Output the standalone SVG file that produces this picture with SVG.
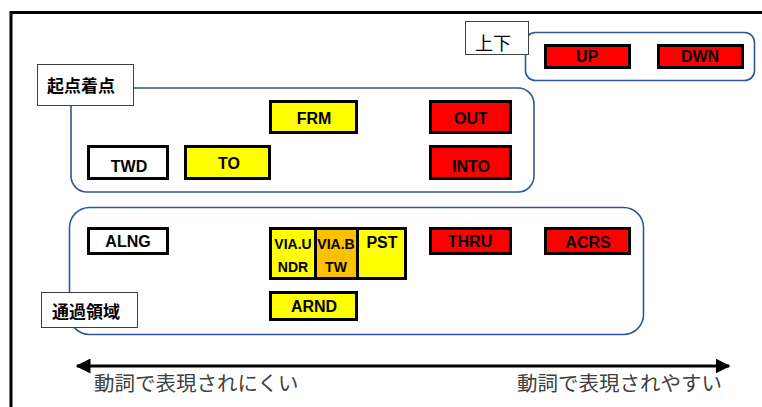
<svg xmlns="http://www.w3.org/2000/svg" width="762" height="407" viewBox="0 0 762 407">
<style>
.grp{fill:none;stroke:#2F5597;stroke-width:1.6}
.lbl{fill:#fff;stroke:#404040;stroke-width:1}
.lt{font-family:"Noto Sans CJK JP",sans-serif;font-weight:bold;font-size:17px;fill:#000}
.b{stroke:#000;stroke-width:3}
.r{fill:#FF0000}.y{fill:#FFFF00}.o{fill:#FFC000}.w{fill:#fff}
.t{font-family:"Liberation Sans",Arial,sans-serif;font-weight:bold;font-size:16px;fill:#000;text-anchor:middle}
.s{font-size:14px}
.ax{font-family:"Noto Sans CJK JP",sans-serif;font-size:20.5px;fill:#404040}
</style>
<defs>
<marker id="ah" viewBox="0 0 10 10" refX="9" refY="5" markerWidth="5" markerHeight="5" orient="auto-start-reverse" markerUnits="strokeWidth">
<path d="M0,0 L10,5 L0,10 z" fill="#000"/>
</marker>
</defs>
<rect width="762" height="407" fill="#fff"/>
<path d="M11,407 V12.5 H762" fill="none" stroke="#000" stroke-width="3"/>

<g id="group-updown">
<rect class="grp" x="525.5" y="32.5" width="229" height="48" rx="10"/>
<rect class="lbl" x="465.5" y="21.5" width="63" height="33"/>
<text class="lt" x="475" y="50" style="font-weight:normal;font-size:18px">上下</text>
</g>
<g id="group-origin">
<rect class="grp" x="71" y="88" width="463" height="104" rx="16"/>
<rect class="lbl" x="37.5" y="64.5" width="96" height="41"/>
<text class="lt" x="47" y="92">起点着点</text>
</g>
<g id="group-pass">
<rect class="grp" x="69.5" y="207.5" width="574" height="127" rx="20"/>
<rect class="lbl" x="41.5" y="292.5" width="96" height="35"/>
<text class="lt" x="52" y="318">通過領域</text>
</g>

<g id="UP"><rect class="b r" x="545.5" y="45.5" width="84" height="22"/><text class="t" x="587" y="61.5">UP</text></g>
<g id="DWN"><rect class="b r" x="658.5" y="45.5" width="84" height="22"/><text class="t" x="700" y="61.5">DWN</text></g>
<g id="FRM"><rect class="b y" x="270.5" y="101.5" width="86" height="31"/><text class="t" x="314" y="123.5">FRM</text></g>
<g id="OUT"><rect class="b r" x="430.5" y="101.5" width="80" height="31"/><text class="t" x="471" y="123.5">OUT</text></g>
<g id="TWD"><rect class="b w" x="88.5" y="146.5" width="79" height="32"/><text class="t" x="129" y="171.5">TWD</text></g>
<g id="TO"><rect class="b y" x="185.5" y="146.5" width="84" height="32"/><text class="t" x="229" y="168.5">TO</text></g>
<g id="INTO"><rect class="b r" x="430.5" y="146.5" width="80" height="32"/><text class="t" x="471" y="171.5">INTO</text></g>
<g id="ALNG"><rect class="b w" x="88.5" y="228.5" width="79" height="25"/><text class="t" x="128" y="247">ALNG</text></g>
<g id="VIA-UNDR"><rect class="b y" x="270.5" y="228.5" width="45" height="50"/><text class="t s" x="293" y="249">VIA.U</text><text class="t s" x="293" y="272">NDR</text></g>
<g id="VIA-BTW"><rect class="b o" x="315.5" y="228.5" width="42" height="50"/><text class="t s" x="336" y="249">VIA.B</text><text class="t s" x="336" y="272">TW</text></g>
<g id="PST"><rect class="b y" x="357.5" y="228.5" width="48" height="50"/><text class="t" x="382" y="248">PST</text></g>
<g id="THRU"><rect class="b r" x="430.5" y="228.5" width="80" height="25"/><text class="t" x="470" y="247">THRU</text></g>
<g id="ACRS"><rect class="b r" x="545.5" y="228.5" width="84" height="25"/><text class="t" x="588" y="248">ACRS</text></g>
<g id="ARND"><rect class="b y" x="270.5" y="292.5" width="86" height="27"/><text class="t" x="314" y="312">ARND</text></g>

<g id="connectors">
<line x1="77" y1="366" x2="729" y2="366" stroke="#000" stroke-width="3" marker-start="url(#ah)" marker-end="url(#ah)"/>
</g>
<text class="ax" x="94" y="391">動詞で表現されにくい</text>
<text class="ax" x="517" y="391">動詞で表現されやすい</text>
</svg>
